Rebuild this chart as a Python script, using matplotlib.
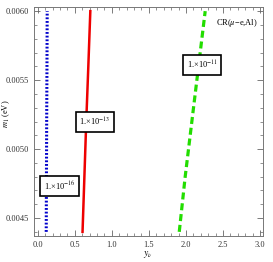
import matplotlib
matplotlib.use("Agg")
import matplotlib.pyplot as plt
from matplotlib.ticker import MultipleLocator

plt.rcParams['font.family'] = ['Liberation Serif', 'DejaVu Serif']
plt.rcParams['mathtext.fontset'] = 'stix'

m1 = [0.00440, 0.00480, 0.00520, 0.00560, 0.00600]
y_16 = [0.115, 0.118, 0.121, 0.125, 0.128]
y_13 = [0.605, 0.630, 0.655, 0.683, 0.710]
y_11 = [1.91, 1.99, 2.08, 2.17, 2.26]
labels = ['1.×10$^{-16}$', '1.×10$^{-13}$', '1.×10$^{-11}$']

fig = plt.figure(figsize=(2.73, 2.62), dpi=100)
ax = fig.add_axes([34/273, 26/262, 229/273, 229/262])

ax.plot(y_16, m1, color='#0000cc', lw=2.2, ls=(0, (0.6, 0.6)))
ax.plot(y_13, m1, color='#ee0000', lw=1.8, ls='-')
ax.plot(y_11, m1, color='#22dd00', lw=2.3, ls=(0, (2.2, 1.2)))

ax.set_xlim(-0.05, 3.04)
ax.set_ylim(0.00437, 0.00603)
ax.xaxis.set_major_locator(MultipleLocator(0.5))
ax.xaxis.set_minor_locator(MultipleLocator(0.1))
ax.yaxis.set_major_locator(MultipleLocator(0.0005))
ax.yaxis.set_minor_locator(MultipleLocator(0.0001))
ax.xaxis.set_major_formatter(plt.FuncFormatter(lambda v, p: f"{v:.1f}"))
ax.yaxis.set_major_formatter(plt.FuncFormatter(lambda v, p: f"{v:.4f}"))
ax.tick_params(which='both', direction='in', top=True, right=True,
               labeltop=False, labelright=False, colors='#666666',
               labelcolor='#333333', labelsize=6)
ax.tick_params(which='major', length=4, width=0.6)
ax.tick_params(which='minor', length=2, width=0.5)
for s in ax.spines.values():
    s.set_color('#777777')
    s.set_linewidth(0.7)

box = dict(boxstyle='square,pad=0.45', fc='white', ec='black', lw=1.2)
ax.text(0.296, 0.004732, labels[0], fontsize=6, ha='center', va='center', bbox=box)
ax.text(0.77, 0.005196, labels[1], fontsize=6, ha='center', va='center', bbox=box)
ax.text(2.22, 0.005609, labels[2], fontsize=6, ha='center', va='center', bbox=box)
ax.text(2.97, 0.005913, 'CR($\\mu$−e,Al)', fontsize=6, ha='right', va='center')

fig.text(148/273, 1 - 255/262, '$y_\\nu$', fontsize=7, ha='center', va='center')
fig.text(6/273, 1 - 114/262, '$m_1$ (eV)', fontsize=6, ha='center', va='center',
         rotation=90)

fig.savefig('out.png', dpi=100)
